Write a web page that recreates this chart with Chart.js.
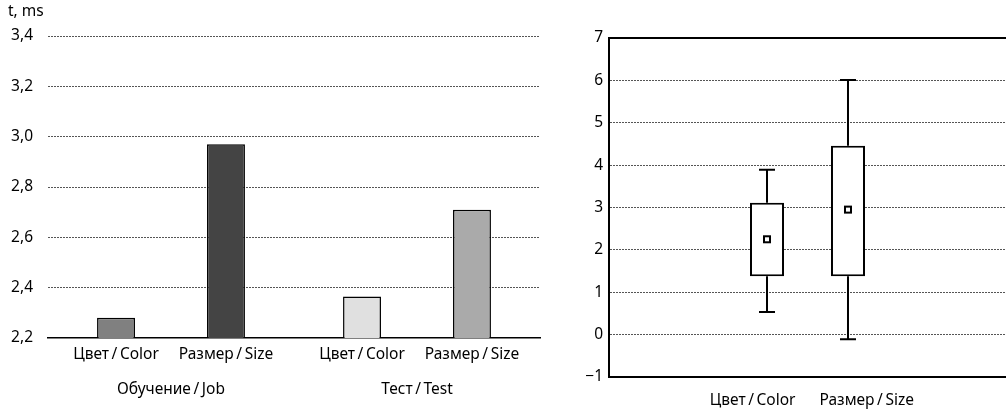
<!DOCTYPE html>
<html>
<head>
<meta charset="utf-8">
<script src="https://cdn.jsdelivr.net/npm/chart.js@4"></script>
<style>
  html, body { margin: 0; padding: 0; background: #fff; }
  .wrap { display: flex; width: 1006px; height: 413px; }
  #barBox { width: 560px; height: 413px; position: relative; }
  #boxBox { width: 446px; height: 413px; position: relative; }
</style>
</head>
<body>
<div class="wrap">
  <div id="barBox"><canvas id="barChart"></canvas></div>
  <div id="boxBox"><canvas id="boxChart"></canvas></div>
</div>
<script>
// left chart: mean reaction time, ms
const groups = ['Обучение\u2009/\u2009Job', 'Тест\u2009/\u2009Test'];
const factors = ['Цвет\u2009/\u2009Color', 'Размер\u2009/\u2009Size'];
const colorTimes = [2.28, 2.365];
const sizeTimes = [2.97, 2.71];
const barTicks = { min: 2.2, max: 3.4, step: 0.2 };

// right chart: box plot
const boxFactors = ['Цвет\u2009/\u2009Color', 'Размер\u2009/\u2009Size'];
const boxQ1 = [1.38, 1.38];
const boxQ3 = [3.11, 4.46];
const whiskerLow = [0.535, -0.11];
const whiskerHigh = [3.89, 6.01];
const boxMeans = [2.25, 2.95];
const boxTicks = { min: -1, max: 7, step: 1 };

const FONT = 'Noto Sans';
const FSIZE = 15.5;
Chart.defaults.font.family = FONT;
Chart.defaults.font.size = FSIZE;
Chart.defaults.color = '#000';

const gridDash = [2, 1];

const barLabels = {
  id: 'barLabels',
  afterDraw(chart) {
    const ctx = chart.ctx;
    ctx.save();
    ctx.fillStyle = '#000';
    ctx.font = FSIZE + 'px "' + FONT + '"';
    ctx.textAlign = 'left';
    ctx.textBaseline = 'middle';
    ctx.fillText('t, ms', 8, 12);
    ctx.textAlign = 'center';
    chart.data.datasets.forEach((ds, i) => {
      chart.getDatasetMeta(i).data.forEach(bar => {
        ctx.fillText(factors[i], bar.x, chart.chartArea.bottom + 17);
      });
    });
    ctx.restore();
  }
};

new Chart(document.getElementById('barChart'), {
  type: 'bar',
  data: {
    labels: groups,
    datasets: [{
      label: factors[0],
      data: colorTimes,
      backgroundColor: ['#808080', '#e0e0e0'],
      borderColor: '#000',
      borderWidth: 1.5
    }, {
      label: factors[1],
      data: sizeTimes,
      backgroundColor: ['#444444', '#aaaaaa'],
      borderColor: '#000',
      borderWidth: 1.5
    }]
  },
  options: {
    responsive: true,
    maintainAspectRatio: false,
    animation: false,
    categoryPercentage: 0.894,
    barPercentage: 0.345,
    layout: { padding: { top: 36, right: 20, bottom: 0, left: 0 } },
    plugins: { legend: { display: false }, tooltip: { enabled: false } },
    scales: {
      x: {
        afterFit(scale) { scale.height = 75; },
        grid: { display: false, drawTicks: false },
        border: { display: true, color: '#000', width: 1.5 },
        ticks: { padding: 42, maxRotation: 0 }
      },
      y: {
        min: barTicks.min,
        max: barTicks.max,
        afterFit(scale) { scale.width = 48; },
        ticks: {
          stepSize: barTicks.step,
          padding: 15,
          callback: v => v.toFixed(1).replace('.', ',')
        },
        grid: {
          drawTicks: false,
          color: c => (Math.abs(c.tick.value - barTicks.min) < 1e-6 ? 'rgba(0,0,0,0)' : '#555'),
          lineWidth: 1
        },
        border: { display: false, dash: gridDash }
      }
    }
  },
  plugins: [barLabels]
});

const boxExtras = {
  id: 'boxExtras',
  afterDatasetsDraw(chart) {
    const ctx = chart.ctx;
    const y = chart.scales.y;
    const area = chart.chartArea;
    ctx.save();
    ctx.strokeStyle = '#000';
    ctx.lineWidth = 2;
    chart.data.datasets.forEach((ds, i) => {
      const bar = chart.getDatasetMeta(i).data[0];
      const x = bar.x;
      const yHi = y.getPixelForValue(whiskerHigh[i]);
      const yLo = y.getPixelForValue(whiskerLow[i]);
      const yQ3 = y.getPixelForValue(boxQ3[i]);
      const yQ1 = y.getPixelForValue(boxQ1[i]);
      ctx.beginPath();
      ctx.moveTo(x, yQ3); ctx.lineTo(x, yHi);
      ctx.moveTo(x - 8, yHi); ctx.lineTo(x + 8, yHi);
      ctx.moveTo(x, yQ1); ctx.lineTo(x, yLo);
      ctx.moveTo(x - 8, yLo); ctx.lineTo(x + 8, yLo);
      ctx.stroke();
      // mean marker
      const ym = y.getPixelForValue(boxMeans[i]);
      ctx.fillStyle = '#fff';
      ctx.lineWidth = 2;
      ctx.fillRect(x - 3, ym - 3, 6, 6);
      ctx.strokeRect(x - 3, ym - 3, 6, 6);
    });
    // top frame line
    ctx.beginPath();
    ctx.moveTo(area.left - 1, area.top);
    ctx.lineTo(chart.width, area.top);
    ctx.stroke();
    // category labels, set apart around the middle of the plot
    ctx.fillStyle = '#000';
    ctx.font = FSIZE + 'px "' + FONT + '"';
    ctx.textBaseline = 'middle';
    const mid = (area.left + area.right) / 2;
    ctx.textAlign = 'right';
    ctx.fillText(boxFactors[0], mid - 12, area.bottom + 24);
    ctx.textAlign = 'left';
    ctx.fillText(boxFactors[1], mid + 12, area.bottom + 24);
    ctx.restore();
  }
};

new Chart(document.getElementById('boxChart'), {
  type: 'bar',
  data: {
    labels: [''],
    datasets: boxFactors.map((name, i) => ({
      label: name,
      data: [[boxQ1[i], boxQ3[i]]],
      backgroundColor: '#fff',
      borderColor: '#000',
      borderWidth: 2,
      borderSkipped: false
    }))
  },
  options: {
    responsive: true,
    maintainAspectRatio: false,
    animation: false,
    categoryPercentage: 0.408,
    barPercentage: 0.42,
    layout: { padding: { top: 38, right: 0, bottom: 36, left: 0 } },
    plugins: { legend: { display: false }, tooltip: { enabled: false } },
    scales: {
      x: {
        grid: { display: false, drawTicks: false },
        border: { display: true, color: '#000', width: 2 },
        ticks: { display: false }
      },
      y: {
        min: boxTicks.min,
        max: boxTicks.max,
        afterFit(scale) { scale.width = 49; },
        ticks: {
          stepSize: boxTicks.step,
          padding: 6,
          callback: v => (v < 0 ? '\u2212' + Math.abs(v) : String(v))
        },
        grid: {
          drawTicks: false,
          color: c => (c.tick.value === boxTicks.min || c.tick.value === boxTicks.max ? 'rgba(0,0,0,0)' : '#555'),
          lineWidth: 1
        },
        border: { display: true, color: '#000', width: 2, dash: gridDash }
      }
    }
  },
  plugins: [boxExtras]
});
</script>
</body>
</html>
